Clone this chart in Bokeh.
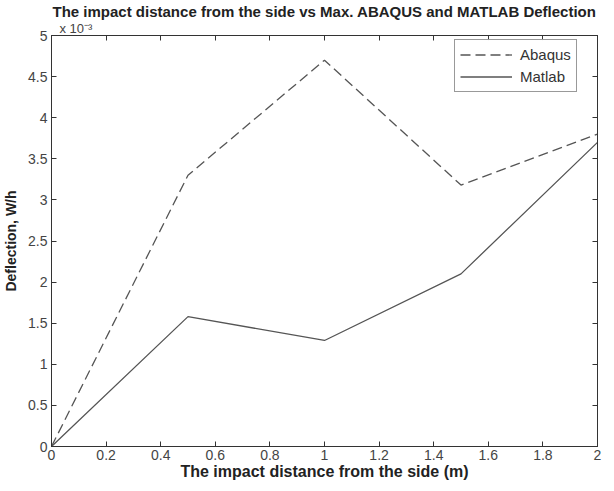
from bokeh.plotting import figure
from bokeh.models import LinearAxis, FixedTicker, Title, Range1d, Legend, LegendItem
from bokeh.embed import file_html
from bokeh.resources import INLINE

# data (deflection in units of 1e-3)
distance = [0, 0.5, 1.0, 1.5, 2.0]
abaqus = [0, 3.3, 4.70, 3.18, 3.80]
matlab = [0, 1.58, 1.29, 2.10, 3.70]
x_ticks = [0, 0.2, 0.4, 0.6, 0.8, 1.0, 1.2, 1.4, 1.6, 1.8, 2.0]
x_tick_labels = ["0", "0.2", "0.4", "0.6", "0.8", "1", "1.2", "1.4", "1.6", "1.8", "2"]
y_ticks = [0, 0.5, 1, 1.5, 2, 2.5, 3, 3.5, 4, 4.5, 5]
y_tick_labels = ["0", "0.5", "1", "1.5", "2", "2.5", "3", "3.5", "4", "4.5", "5"]
y_exponent = "x 10\u207b\u00b3"

FONT = "Liberation Sans"
GRAY = "#555555"

p = figure(frame_width=546, frame_height=411, output_backend="svg", toolbar_location=None,
           x_range=Range1d(0, 2), y_range=Range1d(0, 5),
           min_border_left=44, min_border_right=8, min_border_top=29, min_border_bottom=35)
p.title.text = "The impact distance from the side vs Max. ABAQUS and MATLAB Deflection"
p.title.text_font = FONT
p.title.text_font_size = "15px"
p.title.text_font_style = "bold"
p.title.align = "center"
p.title.text_color = "#222222"
p.title.standoff = 0

p.xgrid.visible = False
p.ygrid.visible = False
p.outline_line_color = "#333333"
p.background_fill_color = "white"

l1 = p.line(distance, abaqus, line_color=GRAY, line_width=1.3, line_dash="10 5")
l2 = p.line(distance, matlab, line_color=GRAY, line_width=1.3)

for ax, ticks, labels in ((p.xaxis[0], x_ticks, x_tick_labels), (p.yaxis[0], y_ticks, y_tick_labels)):
    ax.ticker = FixedTicker(ticks=ticks)
    ax.major_label_overrides = {t: s for t, s in zip(ticks, labels)}
    ax.major_tick_in = 5
    ax.major_tick_out = 0
    ax.minor_tick_in = 0
    ax.minor_tick_out = 0
    ax.axis_line_color = "#333333"
    ax.major_tick_line_color = "#333333"
    ax.major_label_text_font = FONT
    ax.major_label_text_font_size = "14px"
    ax.major_label_text_color = "#444444"
    ax.axis_label_text_font = FONT
    ax.axis_label_text_font_style = "bold"
    ax.axis_label_text_color = "#222222"

p.xaxis.axis_label = "The impact distance from the side (m)"
p.yaxis.axis_label = "Deflection, W/h"
p.xaxis.axis_label_text_font_size = "16px"
p.yaxis.axis_label_text_font_size = "14px"
p.xaxis.major_label_standoff = 3
p.xaxis.axis_label_standoff = 0
p.yaxis.major_label_standoff = 4
p.yaxis.axis_label_standoff = 6

for side, ticks in (("right", y_ticks), ("above", x_ticks)):
    ax = LinearAxis(ticker=FixedTicker(ticks=ticks), major_tick_in=5, major_tick_out=0,
                    minor_tick_in=0, minor_tick_out=0,
                    major_label_overrides={t: "" for t in ticks},
                    major_label_standoff=0, axis_line_color="#333333",
                    major_tick_line_color="#333333")
    p.add_layout(ax, side)

exp = Title(text=y_exponent, align="left", offset=8, standoff=-1,
            text_font=FONT, text_font_size="13px", text_font_style="normal",
            text_color="#444444")
p.add_layout(exp, "above")

legend = Legend(items=[LegendItem(label="Abaqus", renderers=[l1]),
                       LegendItem(label="Matlab", renderers=[l2])],
                location=(403, 354), margin=0, border_line_color="#333333", border_line_width=1,
                label_text_font=FONT, label_text_font_size="15px", label_text_color="#333333",
                glyph_width=52, spacing=3, padding=5, label_height=19, glyph_height=19,
                label_standoff=8)
p.add_layout(legend)

open("out.html", "w").write(file_html(p, INLINE))
